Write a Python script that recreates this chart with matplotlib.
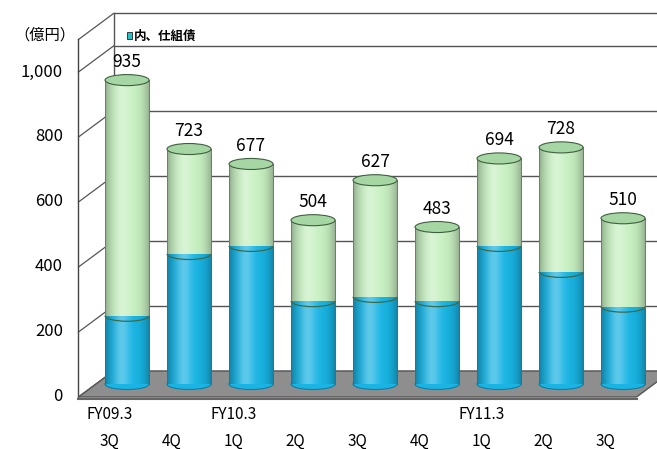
import matplotlib
matplotlib.use('Agg')
import matplotlib.pyplot as plt
from matplotlib.patches import Ellipse, Polygon, Arc, Rectangle
import numpy as np

plt.rcParams['font.family'] = ['Noto Sans CJK JP', 'DejaVu Sans']

# data (億円)
quarters = ['3Q', '4Q', '1Q', '2Q', '3Q', '4Q', '1Q', '2Q', '3Q']
fiscal_years = ['FY09.3', '', 'FY10.3', '', '', '', 'FY11.3', '', '']
totals = [935, 723, 677, 504, 627, 483, 694, 728, 510]
structured = [210, 400, 425, 255, 268, 255, 425, 345, 238]   # 内、仕組債
yticks = [0, 200, 400, 600, 800, 1000]
ytick_labels = ['0', '200', '400', '600', '800', '1,000']

# fake 3d geometry
DX, DY = 0.565, 80        # depth offset of the back wall (category units, value units)
BX, BY = DX / 2, DY / 2   # cylinders sit mid-depth
BAR_W = 0.71
ELL_H = 34
YMAX = 1100

blue = '#19b4e4'
blue_dark = '#0b7fa6'
green = '#c8f0c2'
green_top = '#a6d6a4'
green_dark = '#5c8a5a'

fig = plt.figure(figsize=(6.57, 4.49), dpi=100)
ax = fig.add_axes([0, 0, 1, 1])
ax.axis('off')

n = len(totals)
x = np.arange(n)
x0, x1 = -0.5, n - 0.5

# back wall gridlines + frame
for v in yticks + [YMAX]:
    ax.plot([x0 + DX, 9.5], [v + DY, v + DY], color='#555555', lw=1.0, zorder=1)
    ax.plot([x0, x0 + DX], [v, v + DY], color='#555555', lw=0.9, zorder=1)
ax.plot([x0 + DX, x0 + DX], [DY, YMAX + DY], color='#555555', lw=1.0, zorder=1)
ax.plot([x0, x0], [0, YMAX], color='#444444', lw=1.0, zorder=1)

# floor
floor = Polygon([[x0, 0], [x1, 0], [x1 + DX, DY], [x0 + DX, DY]], closed=True,
                facecolor='#8e8e8e', edgecolor='#555555', lw=1.0, zorder=2)
ax.add_patch(floor)
ax.plot([x0, x1], [-6, -6], color='#666666', lw=1.5, zorder=2)

# cylinders
bx = x + BX
for i in range(n):
    ax.add_patch(Ellipse((bx[i], BY), BAR_W, ELL_H, facecolor=blue,
                         edgecolor=blue_dark, lw=0.8, zorder=3))
blue_bars = ax.bar(bx, structured, width=BAR_W, bottom=BY, color=blue, lw=0, zorder=4)
green_part = [t - s for t, s in zip(totals, structured)]
green_bars = ax.bar(bx, green_part, width=BAR_W, bottom=[BY + s for s in structured],
                    color=green, lw=0, zorder=4)

# cylinder shading: dark towards the edges, soft highlight left of centre
t = np.linspace(-1, 1, 64)
shade = np.zeros((1, 64, 4))
dark = 0.28 * np.abs(t) ** 3
light = 0.30 * np.exp(-((t + 0.25) / 0.35) ** 2)
shade[0, :, :3] = (light / (light + dark + 1e-9))[:, None]
shade[0, :, 3] = np.clip(dark + light, 0, 1)
for rect in list(blue_bars) + list(green_bars):
    xl, yb = rect.get_x(), rect.get_y()
    im = ax.imshow(shade, extent=[xl, xl + rect.get_width(), yb, yb + rect.get_height()],
                   aspect='auto', zorder=4.5, interpolation='bilinear')
    im.set_clip_path(rect)

for i in range(n):
    top = BY + totals[i]
    mid = BY + structured[i]
    # sides
    ax.plot([bx[i] - BAR_W / 2] * 2, [BY, mid], color=blue_dark, lw=0.7, zorder=5)
    ax.plot([bx[i] + BAR_W / 2] * 2, [BY, mid], color=blue_dark, lw=0.7, zorder=5)
    ax.plot([bx[i] - BAR_W / 2] * 2, [mid, top], color=green_dark, lw=0.7, zorder=5)
    ax.plot([bx[i] + BAR_W / 2] * 2, [mid, top], color=green_dark, lw=0.7, zorder=5)
    # boundary arc
    ax.add_patch(Arc((bx[i], mid), BAR_W, ELL_H, theta1=180, theta2=360,
                     color='#3b6b4a', lw=0.9, zorder=5))
    # top cap
    ax.add_patch(Ellipse((bx[i], top), BAR_W, ELL_H, facecolor=green_top,
                         edgecolor='#3f5f3f', lw=0.8, zorder=6))
    ax.text(bx[i], top + 28, str(totals[i]), ha='center', va='bottom',
            fontsize=12.5, zorder=7)

# y axis labels
for v, lab in zip(yticks, ytick_labels):
    ax.text(-0.75, v, lab, ha='right', va='center', fontsize=12)
ax.text(-1.04, 1114, '（億円）', ha='center', va='center', fontsize=11)

# x labels
for i in range(n):
    ax.text(x[i], -135, quarters[i], ha='center', va='center', fontsize=11)
    if fiscal_years[i]:
        ax.text(x[i], -55, fiscal_years[i], ha='center', va='center', fontsize=11)

# legend
ax.add_patch(Rectangle((0.275, 1100), 0.09, 22, facecolor='#27c0c8',
                       edgecolor='#222222', lw=0.6, zorder=8))
ax.text(0.40, 1111, '内、仕組債', ha='left', va='center', fontsize=9,
        fontweight='bold', zorder=8)

ax.set_xlim(-1.766, 8.83)
ax.set_ylim(-160, 1221.5)
ax.set_aspect('auto')

fig.savefig('out.png', dpi=100)
